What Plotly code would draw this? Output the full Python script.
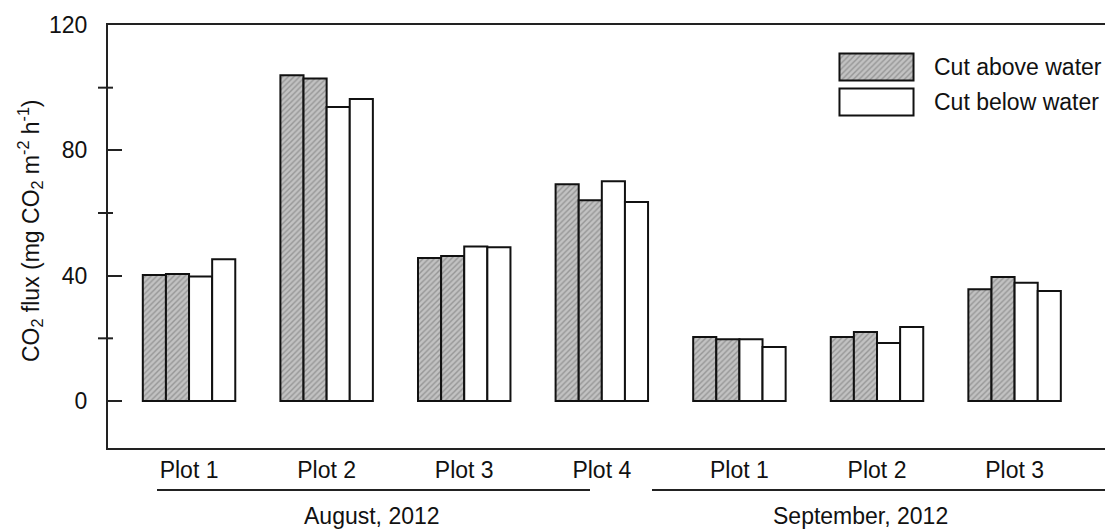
import plotly.graph_objects as go

# ---- data ----
months = ["August, 2012", "August, 2012", "August, 2012", "August, 2012",
          "September, 2012", "September, 2012", "September, 2012"]
plots = ["Plot 1", "Plot 2", "Plot 3", "Plot 4", "Plot 1", "Plot 2", "Plot 3"]
above_rep1 = [40.2, 104.0, 45.6, 69.2, 20.4, 20.4, 35.7]
above_rep2 = [40.5, 102.9, 46.3, 64.1, 19.7, 22.0, 39.6]
below_rep1 = [39.7, 93.8, 49.3, 70.1, 19.7, 18.5, 37.7]
below_rep2 = [45.2, 96.4, 49.1, 63.5, 17.2, 23.6, 35.1]
series_names = ["Cut above water", "Cut below water"]
y_ticks = [0, 40, 80, 120]
y_minor = [20, 60, 100]

FONT = "Liberation Sans, Arial, sans-serif"
FS = 23
W, H = 1105, 531
ML, MR, MT, MB = 108, 0, 25, 83
PW, PH = W - ML - MR, H - MT - MB

def px_x(p):
    return (p - ML) / PW

def px_y(p):
    return (H - MB - p) / PH

xpos = list(range(len(plots)))

hatch = dict(shape="/", size=4, solidity=0.35, fgcolor="#6a6a6a", bgcolor="#c2c2c2")
hatched = dict(color="#c2c2c2", pattern=hatch, line=dict(color="#111111", width=2))
plain = dict(color="white", line=dict(color="#111111", width=2))

fig = go.Figure()
for vals, mk in [(above_rep1, hatched), (above_rep2, hatched),
                 (below_rep1, plain), (below_rep2, plain)]:
    fig.add_trace(go.Bar(x=xpos, y=vals, marker=mk, showlegend=False))

# legend swatches on an auxiliary, invisible subplot
fig.add_trace(go.Bar(x=[1], y=[1], orientation="h", width=0.77, offset=-0.385,
                     marker=hatched, xaxis="x2", yaxis="y2", showlegend=False))
fig.add_trace(go.Bar(x=[1], y=[0], orientation="h", width=0.77, offset=-0.385,
                     marker=plain, xaxis="x2", yaxis="y2", showlegend=False))

fig.update_layout(
    width=W, height=H, autosize=False,
    margin=dict(l=ML, r=MR, t=MT, b=MB, pad=0),
    paper_bgcolor="white", plot_bgcolor="white",
    barmode="group", bargap=0.328, bargroupgap=0,
    font=dict(family=FONT, size=FS, color="#111111"),
    xaxis=dict(range=[-0.589, 6.657], tickvals=xpos, ticktext=plots,
               showgrid=False, zeroline=False, showline=True, linecolor="#222222",
               linewidth=2, mirror=True, ticks="", ticklabelstandoff=0,
               tickfont=dict(size=FS, family=FONT, color="#111111")),
    yaxis=dict(range=[-15, 120], tickvals=y_ticks, showgrid=False, zeroline=False,
               showline=True, linecolor="#222222", linewidth=2, mirror=False,
               ticks="inside", ticklen=14, tickwidth=2, tickcolor="#222222",
               ticklabelstandoff=14,
               tickfont=dict(size=FS, family=FONT, color="#111111")),
    xaxis2=dict(domain=[px_x(838), px_x(915)], anchor="y2", range=[-0.02, 1.02],
                visible=False, fixedrange=True),
    yaxis2=dict(domain=[px_y(119.5), px_y(49.5)], anchor="x2", range=[-0.5, 1.5],
                visible=False, fixedrange=True),
)

# minor crossing ticks
for v in y_minor:
    fig.add_shape(type="line", xref="paper", yref="y", xsizemode="pixel", xanchor=0,
                  x0=-10, x1=5, y0=v, y1=v, line=dict(color="#222222", width=2))

# group underline brackets
fig.add_shape(type="line", xref="paper", yref="paper", x0=px_x(157), x1=px_x(590),
              y0=px_y(490), y1=px_y(490), line=dict(color="#222222", width=2))
fig.add_shape(type="line", xref="paper", yref="paper", x0=px_x(652), x1=1.0,
              y0=px_y(490), y1=px_y(490), line=dict(color="#222222", width=2))

annotations = [
    dict(text=months[0], x=px_x(372), y=px_y(516)),
    dict(text=months[4], x=px_x(860), y=px_y(516)),
]
for a in annotations:
    fig.add_annotation(xref="paper", yref="paper", x=a["x"], y=a["y"], text=a["text"],
                       showarrow=False, xanchor="center", yanchor="middle",
                       font=dict(size=FS, family=FONT, color="#111111"))

for name, yc in zip(series_names, [66.5, 101.5]):
    fig.add_annotation(xref="paper", yref="paper", x=px_x(932), y=px_y(yc), text=name,
                       showarrow=False, xanchor="left", yanchor="middle",
                       font=dict(size=FS, family=FONT, color="#111111"))

fig.add_annotation(xref="paper", yref="paper", x=px_x(30), y=px_y(231),
                   text="CO<sub>2</sub> flux (mg CO<sub>2</sub> m<sup>-2</sup> h<sup>-1</sup>)",
                   textangle=-90, showarrow=False, xanchor="center", yanchor="middle",
                   font=dict(size=FS, family=FONT, color="#111111"))

fig.write_html("out.html", config={"displayModeBar": False},
               post_script="document.body.style.margin='0';document.body.style.overflow='hidden';")
